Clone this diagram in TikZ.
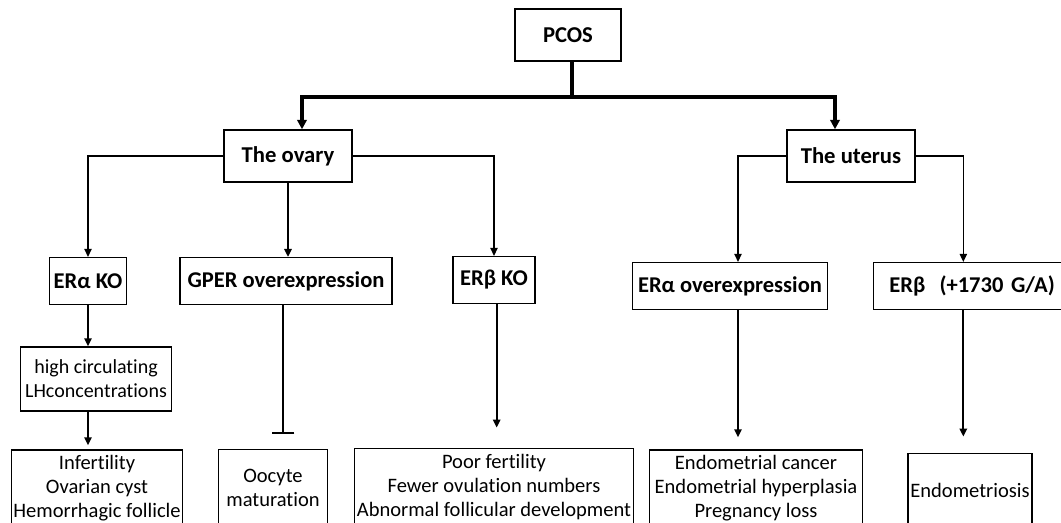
\documentclass[tikz,border=0pt]{standalone}
\usepackage{fontspec}
\setmainfont{Carlito}[Ligatures=NoCommon]
\usetikzlibrary{arrows.meta, positioning, calc}

\begin{document}
\begin{tikzpicture}[
    x=0.75pt, y=-0.75pt,
    topbox/.style={rectangle, draw, line width=1.1pt, minimum height=39pt, font=\fontsize{17}{20}\selectfont\bfseries},
    genebox/.style={rectangle, draw, line width=1.1pt, minimum height=35pt, inner xsep=2pt, font=\fontsize{16.9}{20}\selectfont\bfseries},
    effectbox/.style={rectangle, draw, line width=1.1pt, align=center, inner xsep=1pt, font=\fontsize{15.4}{18}\selectfont},
    trunk/.style={line width=2.6pt},
    mainarrow/.style={line width=2.6pt, -{Triangle[length=7pt, width=7pt]}},
    arrow/.style={line width=1.5pt, -{Triangle[length=6pt, width=5.5pt]}},
    thinarrow/.style={line width=0.9pt, -{Triangle[length=6pt, width=5.5pt]}},
    inhibit/.style={line width=1.5pt, -{Bar[width=17pt, line width=1.8pt]}}
]
\useasboundingbox (0,0) rectangle (1061,523);

% root and the two organs
\node[topbox, minimum width=79.5pt] (pcos) at (568,35) {PCOS};
\node[topbox, minimum width=96pt] (ovary) at (288,156) {The ovary};
\node[topbox, minimum width=96pt] (uterus) at (851,156) {The uterus};

% receptors
\node[genebox, minimum width=57.75pt] (erako) at (88,281) {ERα KO};
\node[genebox, minimum width=159pt] (gper) at (286,281) {GPER overexpression};
\node[genebox, minimum width=61.5pt] (erbko) at (494,280) {ERβ KO};
\node[genebox, minimum width=146pt] (eraover) at (730,286) {ERα overexpression};
\node[genebox, minimum width=148pt, text width=138pt, inner xsep=5pt, align=left] (erbsnp) at (972,286) {\hspace{7pt}ERβ\hspace{0.3em} (+1730 G/A)};

% effects
\node[effectbox, minimum width=113pt, minimum height=48pt, font=\fontsize{15}{18}\selectfont] (lh) at (96,379) {high circulating\\LHconcentrations};
\node[effectbox, minimum width=128pt, minimum height=57pt] (infert) at (97,488) {Infertility\\Ovarian cyst\\Hemorrhagic follicle};
\node[effectbox, minimum width=82pt, minimum height=58pt] (oocyte) at (273,488) {Oocyte\\maturation};
\node[effectbox, minimum width=209pt, minimum height=58pt] (poor) at (494,487) {Poor fertility\\Fewer ovulation numbers\\Abnormal follicular development};
\node[effectbox, minimum width=160pt, minimum height=57pt] (endo) at (756,488) {Endometrial cancer\\Endometrial hyperplasia\\Pregnancy loss};
\node[effectbox, minimum width=93pt, minimum height=55pt] (endosis) at (970,490) {Endometriosis};

\coordinate (split) at (572,97);
\coordinate (block) at (283,434);

\draw[trunk] (pcos.south -| split) -- (split);
\draw[mainarrow] (split) -| ([xshift=10.5pt]ovary.north);
\draw[mainarrow] (split) -| ([xshift=-12pt]uterus.north);

\draw[thinarrow] (ovary.west) -| (erako.north);
\draw[arrow, line width=2pt] (ovary.south) -- (ovary.south |- gper.north);
\draw[thinarrow] (ovary.east) -| (erbko.north);
\draw[thinarrow] (uterus.west) -| ([xshift=6pt]eraover.north);
\draw[thinarrow] (uterus.east) -| ([xshift=-6.5pt]erbsnp.north);

\draw[arrow] (erako.south) -- (erako.south |- lh.north);
\draw[arrow] (erako.south |- lh.south) -- ([yshift=3pt]erako.south |- infert.north);
\draw[inhibit] (gper.south -| block) -- (block);
\draw[arrow, shorten >=15pt] ([xshift=2pt]erbko.south) -- ([xshift=2pt]erbko.south |- poor.north);
\draw[arrow, shorten >=9pt] ([xshift=6pt]eraover.south) -- ([xshift=6pt]eraover.south |- endo.north);
\draw[arrow, shorten >=12pt] ([xshift=-6.5pt]erbsnp.south) -- ([xshift=-6.5pt]erbsnp.south |- endosis.north);

\end{tikzpicture}
\end{document}
